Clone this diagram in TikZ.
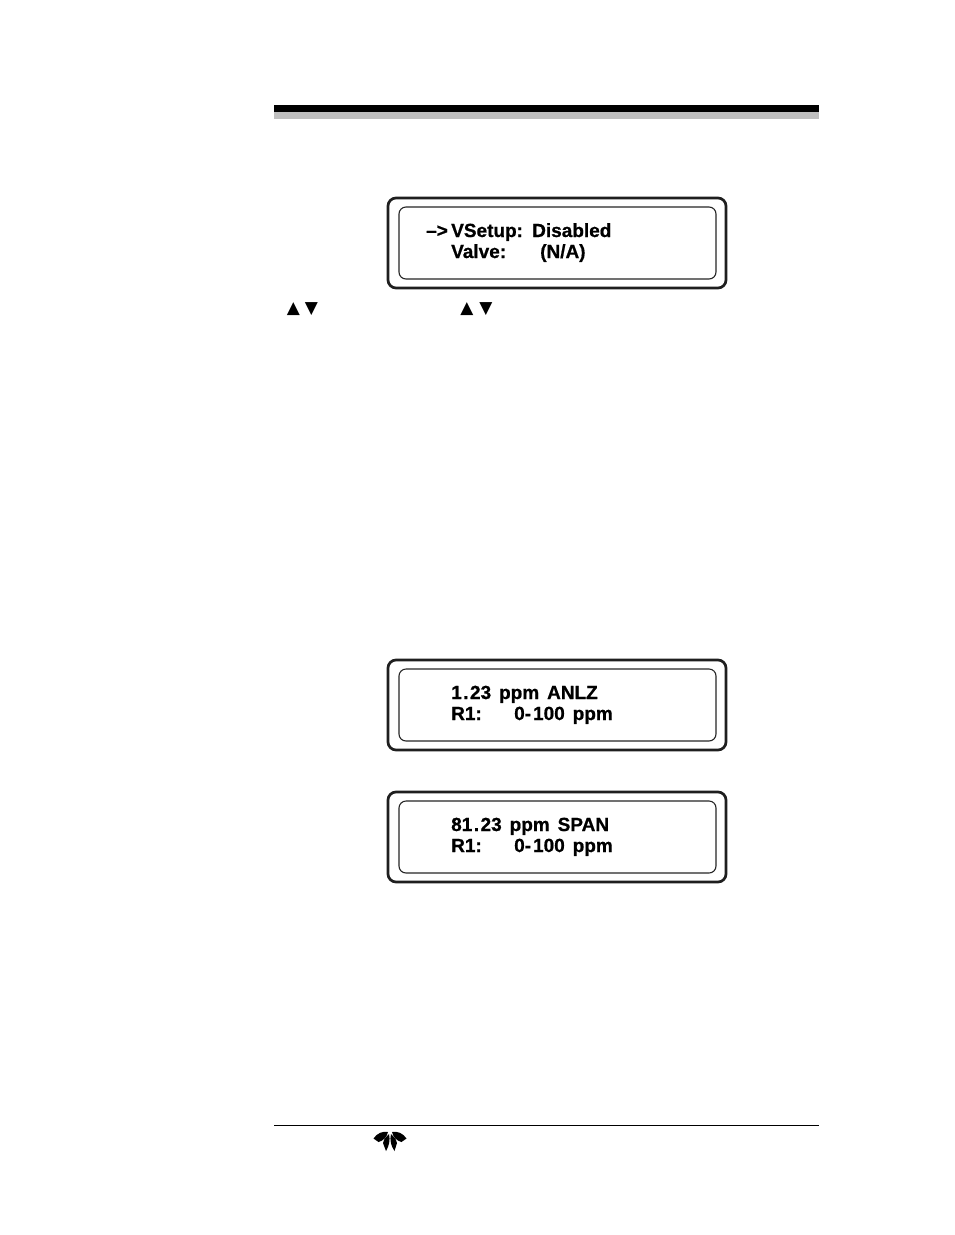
\documentclass[tikz,border=0pt]{standalone}
\usepackage{fontspec}
\setmainfont{Liberation Sans}
\newfontfamily\symfont{DejaVu Sans}
\newfontfamily\lcdfont[FakeBold=0.8,WordSpace=1.5]{Liberation Sans Bold}
\tikzset{
  x=1pt,y=-1pt,
  outerbox/.style={draw=black!88,line width=2.7pt,rounded corners=8pt,fill=white,inner sep=0pt,minimum width=338pt,minimum height=90pt},
  innerbox/.style={draw=black!85,line width=1.1pt,rounded corners=7pt,inner sep=0pt,minimum width=317pt,minimum height=72pt},
  lcd/.style={anchor=base west,inner sep=0pt,font=\fontsize{19}{19}\selectfont\lcdfont,text=black},
  arrows text/.style={anchor=center,inner sep=0pt,font=\fontsize{17}{17}\selectfont\symfont},
  petal/.style={fill=black,draw=none}
}
\begin{document}
\begin{tikzpicture}
\useasboundingbox (0,0) rectangle (954,1235);
\fill[white] (0,0) rectangle (954,1235);
% header bars
\fill[black] (274,105) rectangle (819,112);
\fill[black!25] (274,112) rectangle (819,119);
% footer rule
\draw[black,line width=1pt] (274,1125.5) -- (819,1125.5);
% display 1
\node[outerbox] (d1o) at (557,243) {};
\node[innerbox] (d1i) at (557.5,243) {};
\node[lcd] (d1arrow) at (426,237) {–>};
\node[lcd] (d1a) at (451,237) {VSetup:};
\node[lcd] (d1e) at (532,237) {Disabled};
\node[lcd] (d1b) at (451,258) {Valve:};
\node[lcd] (d1c) at (540,258) {(N/A)};
% arrow keys
\node[arrows text] (k1u) at (293.5,309) {▲};
\node[arrows text] (k1d) at (311.5,309) {▼};
\node[arrows text] (k2u) at (467,309) {▲};
\node[arrows text] (k2d) at (486,309) {▼};
% display 2
\node[outerbox] (d2o) at (557,705) {};
\node[innerbox] (d2i) at (557.5,705) {};
\node[lcd] (d2a) at (451,699) {1\kern1.5pt.\kern1.5pt23 ppm ANLZ};
\node[lcd] (d2b) at (451,720) {R1:};
\node[lcd] (d2c) at (514,720) {0-\kern2pt100 ppm};
% display 3
\node[outerbox] (d3o) at (557,837) {};
\node[innerbox] (d3i) at (557.5,837) {};
\node[lcd] (d3a) at (451,831) {81\kern1.5pt.\kern1.5pt23 ppm SPAN};
\node[lcd] (d3b) at (451,852) {R1:};
\node[lcd] (d3c) at (514,852) {0-\kern2pt100 ppm};
% logo
\fill[petal] (373.5,1138.5) .. controls (377,1133) and (383,1131) .. (388,1132) .. controls (387,1137) and (383,1141) .. (378.5,1142) -- cycle;
\fill[petal] (383,1143) .. controls (384,1139) and (386,1136) .. (389,1134) .. controls (390.5,1140) and (389,1146) .. (386,1151) -- cycle;
\fill[petal] (397,1143) .. controls (396,1139) and (394,1136) .. (391,1134) .. controls (389.5,1140) and (391,1146) .. (394.5,1151) -- cycle;
\fill[petal] (406.5,1138.5) .. controls (403,1133) and (397,1131) .. (392,1132) .. controls (393,1137) and (397,1141) .. (401.5,1142) -- cycle;
\end{tikzpicture}
\end{document}
